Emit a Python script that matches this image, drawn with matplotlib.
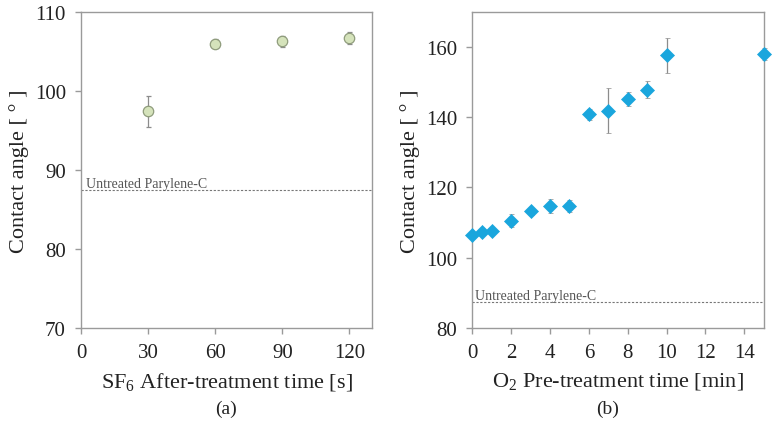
import numpy as np
import matplotlib.pyplot as plt

plt.rcParams['font.family'] = ['Liberation Serif', 'DejaVu Serif']
plt.rcParams['mathtext.fontset'] = 'custom'
plt.rcParams['mathtext.rm'] = 'Liberation Serif'

# (a) SF6 after-treatment
sf6_time = [30, 60, 90, 120]
sf6_angle = [97.4, 106.0, 106.3, 106.7]
sf6_err = [2.0, 0.6, 0.7, 0.7]

# (b) O2 pre-treatment
o2_time = [0, 0.5, 1, 2, 3, 4, 5, 6, 7, 8, 9, 10, 15]
o2_angle = [106.5, 107.3, 107.5, 110.5, 113.2, 114.6, 114.6, 140.8, 141.9, 145.1, 147.9, 157.6, 158.0]
o2_err = [0.4, 0.4, 0.4, 1.8, 1.0, 2.0, 1.7, 1.6, 6.3, 2.0, 2.4, 5.1, 1.8]

untreated = 87.4

fig = plt.figure(figsize=(7.73, 4.31), dpi=100)
ax1 = fig.add_axes([0.105, 0.237, 0.376, 0.733])
ax2 = fig.add_axes([0.611, 0.237, 0.377, 0.733])

spine_col = '#9a9a9a'
for ax in (ax1, ax2):
    for s in ax.spines.values():
        s.set_color(spine_col)
        s.set_linewidth(1.0)
    ax.tick_params(colors=spine_col, labelcolor='#222222', labelsize=15,
                   direction='out', length=4, width=1.0, pad=7)
    ax.set_ylabel('Contact angle [ ° ]', fontsize=16, color='#222222', labelpad=4)

ax1.errorbar(sf6_time, sf6_angle, yerr=sf6_err, fmt='o', ms=7.5,
             mfc='#d5e3bb', mec='#8f9c7c', mew=0.9,
             ecolor='#8c8c8c', elinewidth=0.9, capsize=1.8, capthick=0.9)
ax1.axhline(untreated, color='#777777', ls=(0, (2, 1.5)), lw=0.8)
ax1.text(2, untreated + 0.4, 'Untreated Parylene-C', fontsize=10, color='#555555')
ax1.set_xlim(0, 130)
ax1.set_ylim(70, 110)
ax1.set_xticks([0, 30, 60, 90, 120])
ax1.set_yticks([70, 80, 90, 100, 110])
ax1.set_xlabel('SF$_6$ After-treatment time [s]', fontsize=16, color='#222222', labelpad=6)

ax2.errorbar(o2_time, o2_angle, yerr=o2_err, fmt='D', ms=7,
             mfc='#1aa6dd', mec='#1aa6dd', mew=0.5,
             ecolor='#8c8c8c', elinewidth=0.9, capsize=1.8, capthick=0.9,
             clip_on=False, zorder=5)
ax2.axhline(untreated, color='#777777', ls=(0, (2, 1.5)), lw=0.8)
ax2.text(0.15, untreated + 0.9, 'Untreated Parylene-C', fontsize=10, color='#555555')
ax2.set_xlim(0, 15)
ax2.set_ylim(80, 170)
ax2.set_xticks(np.arange(0, 15, 2))
ax2.set_yticks([80, 100, 120, 140, 160])
ax2.set_xlabel('O$_2$ Pre-treatment time [min]', fontsize=16, color='#222222', labelpad=6)

fig.text(0.293, 0.04, '(a)', fontsize=14, color='#222222', ha='center')
fig.text(0.786, 0.04, '(b)', fontsize=14, color='#222222', ha='center')

fig.savefig('out.png', dpi=100)
